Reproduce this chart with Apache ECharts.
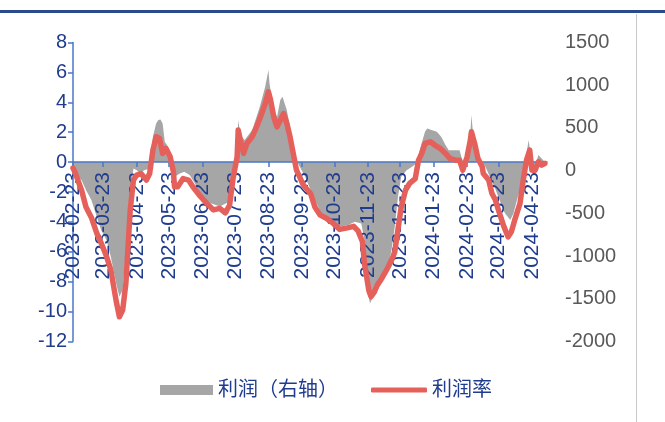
<!DOCTYPE html>
<html>
<head>
<meta charset="utf-8">
<script src="https://cdn.jsdelivr.net/npm/echarts@6/dist/echarts.min.js"></script>
<style>
  html, body { margin: 0; padding: 0; background: #ffffff; }
  #chart { width: 665px; height: 422px; }
</style>
</head>
<body>
<div id="chart"></div>
<script>
// Profit rate (%, left axis)
const rateDates = [
  '2023-02-23','2023-02-25','2023-03-03','2023-03-07','2023-03-12','2023-03-17','2023-03-21','2023-03-26','2023-03-30',
  '2023-04-04','2023-04-07','2023-04-10','2023-04-13','2023-04-17','2023-04-20','2023-04-23','2023-04-27',
  '2023-05-02','2023-05-05','2023-05-08','2023-05-11','2023-05-14','2023-05-17','2023-05-20','2023-05-24','2023-05-27','2023-05-28','2023-05-31',
  '2023-06-05','2023-06-10','2023-06-14','2023-06-21','2023-06-27',
  '2023-07-03','2023-07-09','2023-07-14','2023-07-18','2023-07-21','2023-07-25','2023-07-26','2023-07-28','2023-07-31',
  '2023-08-03','2023-08-08','2023-08-12','2023-08-15','2023-08-20','2023-08-23','2023-08-25','2023-08-28','2023-08-31',
  '2023-09-03','2023-09-06','2023-09-09','2023-09-12','2023-09-15','2023-09-18','2023-09-21','2023-09-24',
  '2023-10-01','2023-10-05','2023-10-10','2023-10-16','2023-10-22','2023-10-28',
  '2023-11-04','2023-11-10','2023-11-14','2023-11-18','2023-11-20','2023-11-24','2023-11-26','2023-11-29',
  '2023-12-02','2023-12-05','2023-12-09','2023-12-12','2023-12-16','2023-12-18','2023-12-21','2023-12-24','2023-12-28',
  '2024-01-01','2024-01-06','2024-01-09','2024-01-12','2024-01-15','2024-01-20','2024-01-24','2024-01-29',
  '2024-02-03','2024-02-07','2024-02-12','2024-02-16','2024-02-19','2024-02-23','2024-02-26','2024-02-27',
  '2024-03-01','2024-03-04','2024-03-08','2024-03-09','2024-03-14','2024-03-17','2024-03-20','2024-03-23','2024-03-28',
  '2024-04-01','2024-04-04','2024-04-07','2024-04-12','2024-04-15','2024-04-18','2024-04-21','2024-04-23','2024-04-26','2024-04-29',
  '2024-05-02','2024-05-05'
];
const rateValues = [
  -0.4,-0.7,-1.9,-3.0,-3.7,-4.75,-5.4,-6.3,-7.2,
  -9.3,-10.35,-9.9,-8.1,-3.2,-1.2,-0.87,-0.76,
  -1.2,-0.76,0.8,1.7,1.6,0.58,0.92,0.35,-0.65,-1.65,-1.65,
  -1.1,-1.2,-1.65,-2.3,-2.76,
  -3.2,-3.1,-3.4,-2.9,-1.2,0.35,2.14,1.47,0.58,
  1.25,1.7,2.36,2.9,3.9,4.7,4.15,3.0,2.36,
  2.8,3.25,2.6,1.7,0.58,-0.54,-1.0,-1.5,
  -2.1,-3.0,-3.55,-3.77,-4.1,-4.5,
  -4.4,-4.3,-4.6,-5.3,-6.8,-8.6,-9.0,-8.7,
  -8.2,-7.9,-7.4,-7.0,-6.4,-6.0,-4.5,-3.0,-1.87,
  -1.4,-1.1,0.13,0.58,1.25,1.36,1.14,0.92,
  0.58,0.25,0.13,0.13,-0.54,0.35,1.47,2.03,
  1.25,0.25,-0.31,-0.76,-1.2,-2.1,-2.5,-3.2,-4.3,
  -5.0,-4.66,-3.9,-2.76,-1.2,0.13,0.8,-0.54,-0.54,0.02,
  -0.2,-0.09
];

// Profit (right axis)
const profitDates = [
  '2023-02-23','2023-02-25','2023-03-03','2023-03-07','2023-03-12','2023-03-17','2023-03-21','2023-03-26','2023-03-30',
  '2023-04-04','2023-04-07','2023-04-10','2023-04-13','2023-04-17','2023-04-20','2023-04-23','2023-04-26','2023-04-30',
  '2023-05-05','2023-05-08','2023-05-11','2023-05-13','2023-05-15','2023-05-17','2023-05-19','2023-05-22','2023-05-25','2023-05-28',
  '2023-06-02','2023-06-06','2023-06-11','2023-06-16','2023-06-21','2023-06-30',
  '2023-07-09','2023-07-18','2023-07-21','2023-07-25','2023-07-26','2023-07-28',
  '2023-08-01','2023-08-08','2023-08-12','2023-08-15','2023-08-20','2023-08-23','2023-08-24','2023-08-28','2023-08-31',
  '2023-09-03','2023-09-05','2023-09-09','2023-09-12','2023-09-15','2023-09-18','2023-09-21','2023-09-26',
  '2023-10-05','2023-10-11','2023-10-17','2023-10-27',
  '2023-11-05','2023-11-11','2023-11-17','2023-11-20','2023-11-22','2023-11-24','2023-11-25','2023-11-28',
  '2023-12-01','2023-12-04','2023-12-07','2023-12-11','2023-12-15','2023-12-18','2023-12-21','2023-12-24','2023-12-29',
  '2024-01-03','2024-01-07','2024-01-10','2024-01-15','2024-01-17','2024-01-21','2024-01-26','2024-01-30',
  '2024-02-03','2024-02-06','2024-02-10','2024-02-16','2024-02-19','2024-02-23','2024-02-26','2024-02-27','2024-02-29',
  '2024-03-03','2024-03-08','2024-03-11','2024-03-15','2024-03-20','2024-03-24','2024-03-29',
  '2024-04-03','2024-04-06','2024-04-10','2024-04-14','2024-04-17','2024-04-20','2024-04-22','2024-04-26','2024-04-29',
  '2024-05-02','2024-05-05'
];
const profitValues = [
  -20,-40,-111,-228,-345,-540,-696,-813,-1008,
  -1320,-1477,-1398,-930,-266,26,6,-29,6,
  26,396,553,592,600,553,338,279,123,-72,
  -32,-14,-52,-150,-300,-380,
  -420,-360,-100,200,592,416,
  358,475,630,747,981,1177,1021,709,630,
  826,864,709,513,319,123,45,-72,
  -345,-500,-579,-657,
  -637,-599,-618,-813,-1126,-1477,-1554,-1477,
  -1320,-1360,-1281,-1164,-930,-657,-306,-72,6,
  45,85,240,455,494,475,455,396,
  299,240,240,240,104,182,436,650,358,
  221,104,45,-72,-208,-345,-500,
  -579,-500,-306,-149,123,358,162,45,182,
  143,104
];

// Axis tick ranges
const leftTicks = { min: -12, max: 8, interval: 2 };
const rightTicks = { min: -2000, max: 1500, interval: 500 };

const seriesNames = ['利润（右轴）', '利润率'];

// Every calendar day on the category axis
const dayList = [];
const startUTC = Date.UTC(2023, 1, 23);
const endUTC = Date.UTC(2024, 4, 7);
for (let t = startUTC; t <= endUTC; t += 86400000) {
  dayList.push(new Date(t).toISOString().slice(0, 10));
}
const isMonthTick = (idx, val) => val.slice(8, 10) === '23';

const navy = '#1F3C8E';
const axisBlue = '#4A78C8';
const lineRed = '#E5605B';
const areaGray = '#A6A6A6';
const latin = "'Liberation Sans', Arial, sans-serif";
const cjk = "'Liberation Sans', 'Noto Sans CJK SC', sans-serif";

// Plot box
const gridTop = 42.5, gridBottom = 80.5, chartH = 422;
const plotH = chartH - gridTop - gridBottom;
// Vertical distance from the bottom edge of the plot up to the left axis zero
const zeroLift = plotH * (0 - leftTicks.min) / (leftTicks.max - leftTicks.min);

const chart = echarts.init(document.getElementById('chart'), null, { renderer: 'canvas' });
chart.setOption({
  backgroundColor: '#ffffff',
  animation: false,
  graphic: [
    { type: 'rect', shape: { x: 0, y: 10, width: 665, height: 3 }, style: { fill: '#2A4A8C' }, silent: true },
    { type: 'line', shape: { x1: 636.5, y1: 14, x2: 636.5, y2: 422 }, style: { stroke: '#C8C8C8', lineWidth: 1 }, silent: true }
  ],
  grid: { left: 73, right: 118, top: gridTop, bottom: gridBottom, containLabel: false, outerBoundsMode: 'none' },
  legend: [
    {
      left: 160, top: 380, padding: 0,
      itemWidth: 53, itemHeight: 10, itemGap: 6,
      textStyle: { color: navy, fontSize: 20, fontFamily: cjk },
      data: [{ name: seriesNames[0], icon: 'rect' }]
    },
    {
      left: 371, top: 380, padding: 0,
      itemWidth: 56, itemHeight: 5,
      textStyle: { color: navy, fontSize: 20, fontFamily: cjk },
      data: [{ name: seriesNames[1], icon: 'roundRect', itemStyle: { color: lineRed } }]
    }
  ],
  xAxis: {
    type: 'category',
    data: dayList,
    boundaryGap: false,
    offset: -zeroLift,
    z: 2,
    axisLine: { onZero: false, lineStyle: { color: axisBlue, width: 1.5 } },
    axisTick: { show: true, interval: isMonthTick, length: 5, lineStyle: { color: axisBlue, width: 1.5 } },
    axisLabel: {
      interval: isMonthTick, rotate: 90, margin: 10,
      color: navy, fontSize: 21, fontFamily: latin
    },
    splitLine: { show: false }
  },
  yAxis: [
    {
      type: 'value',
      min: leftTicks.min, max: leftTicks.max, interval: leftTicks.interval,
      axisLine: { show: true, lineStyle: { color: axisBlue, width: 1.5 } },
      axisTick: { show: true, length: 5, lineStyle: { color: axisBlue, width: 1.5 } },
      axisLabel: { color: navy, fontSize: 20, fontFamily: latin, margin: 6 },
      splitLine: { show: false }
    },
    {
      type: 'value',
      min: rightTicks.min, max: rightTicks.max, interval: rightTicks.interval,
      axisLine: { show: false },
      axisTick: { show: false },
      axisLabel: { color: '#595959', fontSize: 20, fontFamily: latin, margin: 18, formatter: (v) => String(v) },
      splitLine: { show: false }
    }
  ],
  series: [
    {
      name: seriesNames[0],
      type: 'line',
      yAxisIndex: 1,
      data: profitDates.map((d, i) => [d, profitValues[i]]),
      showSymbol: false,
      symbol: 'none',
      lineStyle: { width: 0 },
      itemStyle: { color: areaGray },
      areaStyle: { color: areaGray, opacity: 1, origin: 100 },
      z: 1
    },
    {
      name: seriesNames[1],
      type: 'line',
      yAxisIndex: 0,
      data: rateDates.map((d, i) => [d, rateValues[i]]),
      showSymbol: false,
      symbol: 'none',
      lineStyle: { color: lineRed, width: 5.5, cap: 'round', join: 'round' },
      itemStyle: { color: lineRed },
      z: 3
    }
  ]
});
</script>
</body>
</html>
